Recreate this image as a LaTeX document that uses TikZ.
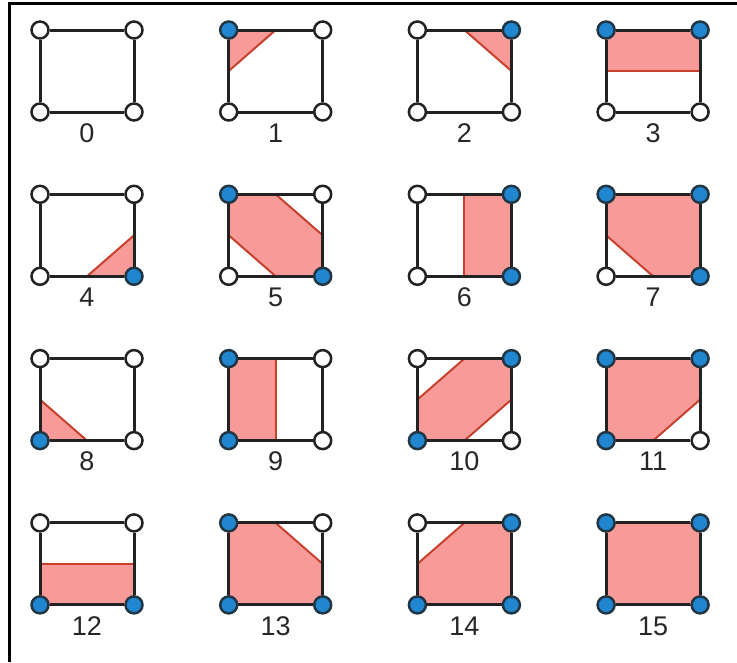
\documentclass[tikz,border=0pt]{standalone}
\usepackage{fontspec}
\setmainfont{Liberation Sans}
\usepackage{xcolor}
\usepackage{tikz}

\definecolor{cellpink}{HTML}{F79A98}
\definecolor{cellred}{HTML}{C8412E}
\definecolor{dotblue}{HTML}{1F86CF}
\definecolor{edgegray}{HTML}{222222}

\tikzset{
  edge/.style={edgegray, line width=3pt},
  region/.style={fill=cellpink, draw=cellred, line width=2pt, line join=miter},
  corner0/.style={circle, draw=edgegray, line width=2.5pt, fill=white, minimum size=17pt, inner sep=0pt},
  corner1/.style={circle, draw=edgegray!80!dotblue, line width=2.5pt, fill=dotblue, minimum size=17pt, inner sep=0pt},
  lbl/.style={font=\fontsize{27}{30}\selectfont, text=black!85}
}

\begin{document}
\begin{tikzpicture}[x=1pt, y=-1pt]

\useasboundingbox (0,0) rectangle (737,662);
\draw[black, line width=3pt] (9,662) -- (9,3) -- (737,3);

% the 16 cases, corners 1 = top left, 2 = top right, 4 = bottom right, 8 = bottom left
\foreach \n/\reg in {
  0/{},
  1/{(0,0) -- (47,0) -- (0,41) -- cycle},
  2/{(47,0) -- (94,0) -- (94,41) -- cycle},
  3/{(0,0) -- (94,0) -- (94,41) -- (0,41) -- cycle},
  4/{(94,41) -- (94,82) -- (47,82) -- cycle},
  5/{(0,0) -- (47,0) -- (94,41) -- (94,82) -- (47,82) -- (0,41) -- cycle},
  6/{(47,0) -- (94,0) -- (94,82) -- (47,82) -- cycle},
  7/{(0,0) -- (94,0) -- (94,82) -- (47,82) -- (0,41) -- cycle},
  8/{(0,41) -- (47,82) -- (0,82) -- cycle},
  9/{(0,0) -- (47,0) -- (47,82) -- (0,82) -- cycle},
  10/{(47,0) -- (94,0) -- (94,41) -- (47,82) -- (0,82) -- (0,41) -- cycle},
  11/{(0,0) -- (94,0) -- (94,41) -- (47,82) -- (0,82) -- cycle},
  12/{(0,41) -- (94,41) -- (94,82) -- (0,82) -- cycle},
  13/{(0,0) -- (47,0) -- (94,41) -- (94,82) -- (0,82) -- cycle},
  14/{(47,0) -- (94,0) -- (94,82) -- (0,82) -- (0,41) -- cycle},
  15/{(0,0) -- (94,0) -- (94,82) -- (0,82) -- cycle}}
{
  \pgfmathsetmacro\cx{40+188.7*mod(\n,4)}
  \pgfmathsetmacro\cy{30+164.3*floor(\n/4)}
  \pgfmathtruncatemacro\btl{mod(\n,2)}
  \pgfmathtruncatemacro\btr{mod(floor(\n/2),2)}
  \pgfmathtruncatemacro\bbr{mod(floor(\n/4),2)}
  \pgfmathtruncatemacro\bbl{mod(floor(\n/8),2)}
  \begin{scope}[shift={(\cx,\cy)}]
    \path[region] \reg;
    \node[corner\btl] (tl\n) at (0,0) {};
    \node[corner\btr] (tr\n) at (94,0) {};
    \node[corner\bbr] (br\n) at (94,82) {};
    \node[corner\bbl] (bl\n) at (0,82) {};
    \draw[edge] (tl\n) -- (tr\n);
    \draw[edge] (tr\n) -- (br\n);
    \draw[edge] (br\n) -- (bl\n);
    \draw[edge] (bl\n) -- (tl\n);
    \node[lbl] (lab\n) at (47,103) {\n};
  \end{scope}
}

\end{tikzpicture}
\end{document}
